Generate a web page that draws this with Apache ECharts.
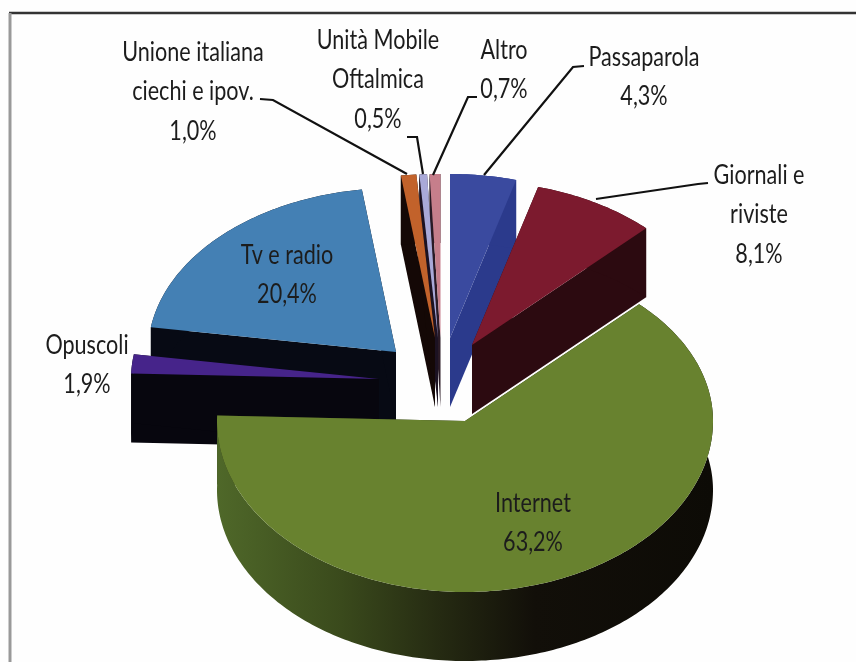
<!DOCTYPE html>
<html><head><meta charset="utf-8">
<style>html,body{margin:0;padding:0;background:#fff}#c{width:856px;height:662px;filter:blur(0.5px)}</style>
<script src="https://cdn.jsdelivr.net/npm/echarts@6/dist/echarts.min.js"></script>
</head><body><div id="c"></div>
<script>
// Data, clockwise from 12 o'clock
const names = ['Passaparola','Giornali e\nriviste','Internet','Opuscoli','Tv e radio','Unione italiana\nciechi e ipov.','Unità Mobile\nOftalmica','Altro'];
const shares = [4.3,8.1,63.2,1.9,20.4,1.0,0.5,0.7];
// Layout
const drawOrder = [0,7,6,5,4,3,1,2];
const centres = [[450,338],[472,345],[465,421],[379,379],[396,352],[435,338],[438,338],[440.5,338]];
const topColors = ['#3a4a9f','#7c1a2e','#68822f','#46248a','#4480b4','#c2622b','#a9a9d8','#c67e8b'];
const wallColors = ['#2b3a8c','#2c0a10','#2a3016','#07060e','#070a14','#140806','#1c1222','#2a1a25'];
const labelAnchors = [[644,57],[759,175],[533,503],[87,345],[287,255],[193,52],[378,40],[504,50]];
const leaders = [
  [[584,66],[573,67],[484,175]],
  [[708,183],[698,184],[596,199]],
  null,null,null,
  [[260,99],[273,100],[407,174]],
  [[407,137],[417,137],[423,174]],
  [[477,97],[468,97],[433,175]]
];
const RX=248, RY_BACK=164, RY_FRONT=171, DEPTH=69, LINE=39.5;
const total = shares.reduce((a,b)=>a+b,0);
const starts=[]; shares.reduce((acc,v,i)=>{starts[i]=acc;return acc+v;},0);
const pct = v => v.toFixed(1).replace('.',',')+'%';

function renderItem(params, api){
  const i = api.value(0), value = api.value(1);
  const a0 = starts[i]/total*2*Math.PI, a1 = (starts[i]+value)/total*2*Math.PI;
  const [cx,cy] = centres[i];
  const steps = Math.max(2,Math.ceil((a1-a0)/(Math.PI/180)));
  const arc=[];
  for(let k=0;k<=steps;k++){const a=a0+(a1-a0)*k/steps; const co=Math.cos(a);
    arc.push([cx+RX*Math.sin(a),cy-(co>0?RY_BACK:RY_FRONT)*co]);}
  const down = p=>[p[0],p[1]+DEPTH];
  const wallFill = i===2 ? new echarts.graphic.LinearGradient(0,0,1,0,[
      {offset:0,color:'#4f6829'},{offset:.25,color:'#3a4a1c'},{offset:.45,color:'#252a12'},{offset:.64,color:'#120f09'},{offset:1,color:'#0d0b06'}]) : wallColors[i];
  const poly=(pts,fill)=>({type:'polygon',shape:{points:pts},style:{fill:fill,stroke:null}});
  const c=[cx,cy];
  const children=[
    poly([c,arc[0],down(arc[0]),down(c)],wallColors[i]),
    poly([c,arc[steps],down(arc[steps]),down(c)],wallColors[i]),
    poly(arc.concat(arc.slice().reverse().map(down)),wallFill),
    poly([c].concat(arc),topColors[i])
  ];
  if(leaders[i]) children.push({type:'polyline',shape:{points:leaders[i]},style:{stroke:'#111',lineWidth:2.2,fill:null}});
  const lines = names[i].split('\n').concat(pct(value));
  const [lx,ly]=labelAnchors[i];
  lines.forEach((t,k)=>children.push({type:'text',x:lx,y:ly+k*LINE,scaleX:0.8,scaleY:1,
    style:{text:t,x:0,y:0,align:'center',verticalAlign:'middle',fill:'#1c1c1c',font:'27px Lato'}}));
  return {type:'group',children};
}
const chart = echarts.init(document.getElementById('c'),null,{renderer:'canvas'});
chart.setOption({
  animation:false,
  backgroundColor:'#fefefe',
  graphic:[
    {type:'line',shape:{x1:9,y1:13,x2:856,y2:13},style:{stroke:'#333',lineWidth:2.5},z:10},
    {type:'line',shape:{x1:10,y1:13,x2:10,y2:662},style:{stroke:'#999',lineWidth:3},z:10}
  ],
  series:[{type:'custom',coordinateSystem:'none',silent:true,renderItem,
    data:drawOrder.map(i=>[i,shares[i]])}]
});
</script></body></html>
